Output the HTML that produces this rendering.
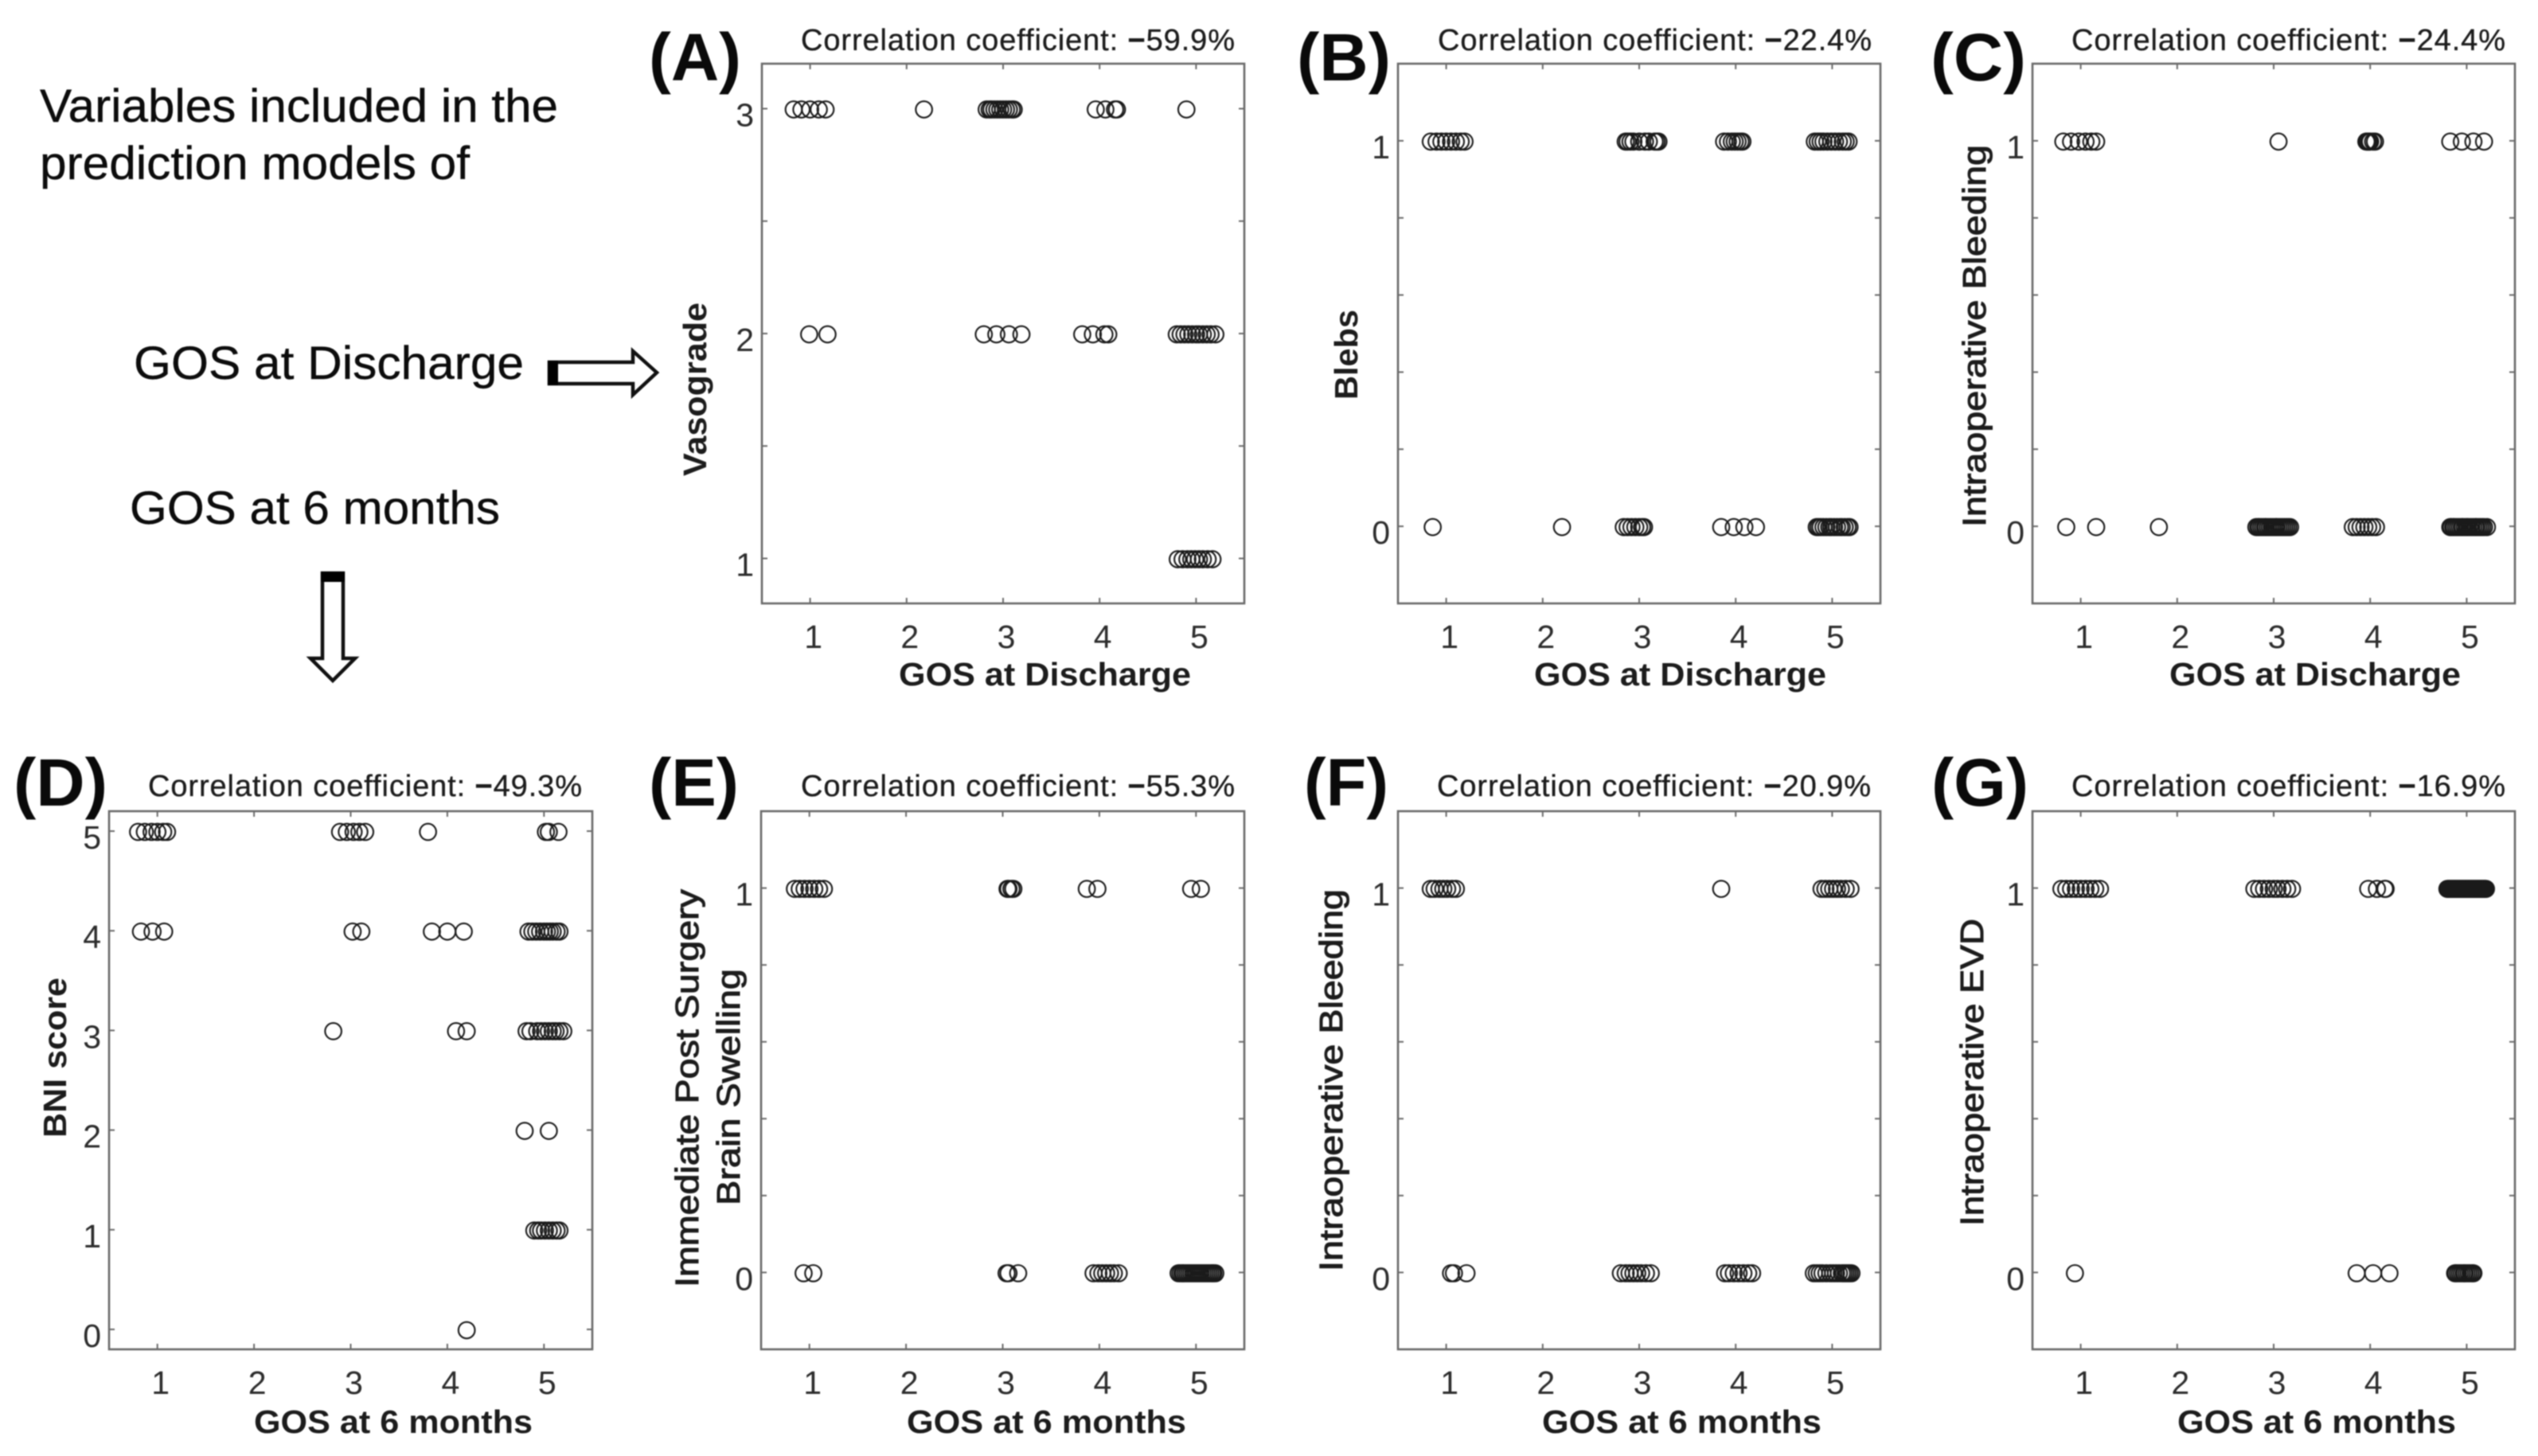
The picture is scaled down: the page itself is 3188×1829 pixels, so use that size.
<!DOCTYPE html>
<html lang="en">
<head>
<meta charset="utf-8">
<title>GOS correlation scatter plots</title>
<style>
html,body{margin:0;padding:0;background:#fff;width:3188px;height:1829px;overflow:hidden}
svg{display:block;filter:blur(0.9px)}
text{font-family:"Liberation Sans",Arial,sans-serif;fill:#1c1c1c}
.intro{font-size:58px;fill:#0c0c0c;stroke:#0c0c0c;stroke-width:.4px}
.panel{font-size:84px;font-weight:bold;fill:#0a0a0a}
.title{font-size:38px;stroke:#1c1c1c;stroke-width:.35px}
.minus{font-weight:bold}
.xt{font-size:41px;font-weight:bold}
.yt{font-size:41px;font-weight:bold}
.yr{font-size:41px;stroke:#1c1c1c;stroke-width:1px}
.tick{font-size:41px;fill:#2c2c2c}
</style>
</head>
<body>
<svg id="fig" xmlns="http://www.w3.org/2000/svg" width="3188" height="1829" viewBox="0 0 3188 1829">
<rect width="3188" height="1829" fill="#fff"/>

<text class="intro" x="50" y="153" textLength="651" lengthAdjust="spacingAndGlyphs">Variables included in the</text>
<text class="intro" x="50" y="225" textLength="540" lengthAdjust="spacingAndGlyphs">prediction models of</text>
<text class="intro" x="168" y="476" textLength="490" lengthAdjust="spacingAndGlyphs">GOS at Discharge</text>
<text class="intro" x="163" y="658" textLength="465" lengthAdjust="spacingAndGlyphs">GOS at 6 months</text>

<g>
<polygon points="690,455 795,455 795,441 825,468 795,496 795,482 690,482" fill="#fff" stroke="#111" stroke-width="4.5"/>
<rect x="688" y="453" width="13" height="31" fill="#000"/>
</g>
<g>
<polygon points="405,720 431,720 431,827 446,827 418,855 390,827 405,827" fill="#fff" stroke="#111" stroke-width="4.5"/>
<rect x="403" y="718" width="30" height="13" fill="#000"/>
</g>

<text class="panel" x="815" y="101" textLength="116" lengthAdjust="spacingAndGlyphs">(A)</text>
<text class="panel" x="1629" y="101" textLength="118" lengthAdjust="spacingAndGlyphs">(B)</text>
<text class="panel" x="2425" y="101" textLength="120" lengthAdjust="spacingAndGlyphs">(C)</text>
<text class="panel" x="17" y="1012" textLength="118" lengthAdjust="spacingAndGlyphs">(D)</text>
<text class="panel" x="815" y="1012" textLength="113" lengthAdjust="spacingAndGlyphs">(E)</text>
<text class="panel" x="1638" y="1012" textLength="106" lengthAdjust="spacingAndGlyphs">(F)</text>
<text class="panel" x="2426" y="1012" textLength="122" lengthAdjust="spacingAndGlyphs">(G)</text>

<text class="title" x="1006" y="63" textLength="545">Correlation coefficient: <tspan class="minus">−</tspan>59.9%</text>
<text class="title" x="1806" y="63" textLength="545">Correlation coefficient: <tspan class="minus">−</tspan>22.4%</text>
<text class="title" x="2602" y="63" textLength="545">Correlation coefficient: <tspan class="minus">−</tspan>24.4%</text>
<text class="title" x="186" y="1000" textLength="545">Correlation coefficient: <tspan class="minus">−</tspan>49.3%</text>
<text class="title" x="1006" y="1000" textLength="545">Correlation coefficient: <tspan class="minus">−</tspan>55.3%</text>
<text class="title" x="1805" y="1000" textLength="545">Correlation coefficient: <tspan class="minus">−</tspan>20.9%</text>
<text class="title" x="2602" y="1000" textLength="545">Correlation coefficient: <tspan class="minus">−</tspan>16.9%</text>

<text class="xt" x="1129" y="861" textLength="367" lengthAdjust="spacingAndGlyphs">GOS at Discharge</text>
<text class="xt" x="1927" y="861" textLength="367" lengthAdjust="spacingAndGlyphs">GOS at Discharge</text>
<text class="xt" x="2725" y="861" textLength="366" lengthAdjust="spacingAndGlyphs">GOS at Discharge</text>
<text class="xt" x="319" y="1800" textLength="350" lengthAdjust="spacingAndGlyphs">GOS at 6 months</text>
<text class="xt" x="1139" y="1800" textLength="351" lengthAdjust="spacingAndGlyphs">GOS at 6 months</text>
<text class="xt" x="1937" y="1800" textLength="351" lengthAdjust="spacingAndGlyphs">GOS at 6 months</text>
<text class="xt" x="2735" y="1800" textLength="350" lengthAdjust="spacingAndGlyphs">GOS at 6 months</text>

<text class="yt" transform="translate(887,598) rotate(-90)" textLength="218" lengthAdjust="spacingAndGlyphs">Vasograde</text>
<text class="yt" transform="translate(1705,502) rotate(-90)" textLength="113" lengthAdjust="spacingAndGlyphs">Blebs</text>
<text class="yr" transform="translate(2494,662) rotate(-90)" textLength="480" lengthAdjust="spacingAndGlyphs">Intraoperative Bleeding</text>
<text class="yt" transform="translate(83,1429) rotate(-90)" textLength="201" lengthAdjust="spacingAndGlyphs">BNI score</text>
<text class="yr" transform="translate(877,1617) rotate(-90)" textLength="500" lengthAdjust="spacingAndGlyphs">Immediate Post Surgery</text>
<text class="yr" transform="translate(929,1514) rotate(-90)" textLength="297" lengthAdjust="spacingAndGlyphs">Brain Swelling</text>
<text class="yr" transform="translate(1686,1597) rotate(-90)" textLength="480" lengthAdjust="spacingAndGlyphs">Intraoperative Bleeding</text>
<text class="yr" transform="translate(2491,1540) rotate(-90)" textLength="386" lengthAdjust="spacingAndGlyphs">Intraoperative EVD</text>
</svg>

<script>
// Shared tick values
const xTickValues = [1, 2, 3, 4, 5];
const vasogradeTicks = [1, 1.5, 2, 2.5, 3];
const vasogradeLabels = [1, 2, 3];
const binaryTicks = [0, 0.2, 0.4, 0.6, 0.8, 1];
const binaryLabels = [0, 1];
const bniTicks = [0, 1, 2, 3, 4, 5];
const bniLabels = [0, 1, 2, 3, 4, 5];

// Panel A: Vasograde vs GOS at discharge (jittered GOS per Vasograde level)
const aVasograde3 = [0.83,0.91,1.0,1.09,1.16,2.18,2.83,2.86,2.88,2.91,2.94,2.97,3.0,3.03,3.06,3.09,3.11,3.96,4.06,4.16,4.18,4.9];
const aVasograde2 = [0.99,1.18,2.80,2.93,3.06,3.19,3.82,3.93,4.05,4.09,4.8,4.84,4.88,4.92,4.96,5.0,5.03,5.07,5.11,5.15,5.2];
const aVasograde1 = [4.81,4.86,4.91,4.95,4.99,5.03,5.07,5.12,5.17];

// Panel B: Blebs
const bBlebs1 = [0.84,0.9,0.95,1.0,1.05,1.1,1.15,1.19,2.86,2.88,2.91,2.94,3.0,3.06,3.1,3.16,3.18,3.2,3.88,3.92,3.96,3.99,4.02,4.05,4.07,4.82,4.85,4.88,4.91,4.95,4.99,5.03,5.07,5.11,5.14,5.17];
const bBlebs0 = [0.86,2.2,2.84,2.88,2.92,2.96,3.0,3.03,3.05,3.85,3.98,4.09,4.21,4.84,4.86,4.88,4.91,4.94,4.97,4.99,5.02,5.05,5.08,5.1,5.13,5.16,5.18];

// Panel C: Intraoperative bleeding at discharge
const cBleeding1 = [0.82,0.9,0.98,1.05,1.11,1.16,3.05,3.96,3.97,3.98,3.99,4.0,4.03,4.05,4.83,4.95,5.07,5.18];
const cBleeding0 = [0.85,1.16,1.81,2.82,2.84,2.85,2.87,2.89,2.91,2.92,2.94,2.96,2.98,3.0,3.02,3.03,3.05,3.07,3.09,3.11,3.13,3.15,3.17,3.82,3.86,3.9,3.94,3.98,4.02,4.06,4.83,4.84,4.86,4.87,4.89,4.91,4.93,4.95,4.96,4.98,5.0,5.01,5.03,5.05,5.07,5.09,5.1,5.12,5.14,5.16,5.18,5.21];

// Panel D: BNI score vs GOS at 6 months
const dBni5 = [0.8,0.87,0.94,1.0,1.06,1.1,2.89,2.96,3.03,3.09,3.15,3.8,5.02,5.05,5.15];
const dBni4 = [0.83,0.95,1.07,3.02,3.11,3.84,4.0,4.17,4.84,4.88,4.92,4.96,5.0,5.03,5.06,5.09,5.13,5.16];
const dBni3 = [2.82,4.09,4.2,4.82,4.86,4.93,4.97,5.01,5.05,5.09,5.12,5.16,5.2];
const dBni2 = [4.8,5.05];
const dBni1 = [4.9,4.94,4.97,5.01,5.05,5.09,5.13,5.16];
const dBni0 = [4.2];

// Panel E: Immediate post surgery brain swelling
const eSwelling1 = [0.85,0.9,0.95,1.0,1.05,1.1,1.15,3.05,3.06,3.09,3.11,3.87,3.98,4.95,5.05];
const eSwelling0 = [0.94,1.04,3.04,3.06,3.16,3.94,3.99,4.03,4.07,4.11,4.15,4.2,4.82,4.84,4.86,4.87,4.89,4.91,4.93,4.95,4.97,4.99,5.01,5.03,5.05,5.07,5.09,5.11,5.13,5.15,5.17,5.18,5.2];

// Panel F: Intraoperative bleeding at 6 months
const fBleeding1 = [0.84,0.88,0.93,0.97,1.01,1.06,1.1,3.85,4.89,4.93,4.97,5.01,5.05,5.09,5.14,5.19];
const fBleeding0 = [1.05,1.08,1.21,2.81,2.86,2.9,2.94,2.98,3.02,3.07,3.12,3.89,3.93,3.98,4.03,4.08,4.13,4.17,4.81,4.84,4.87,4.9,4.94,4.98,5.01,5.04,5.07,5.1,5.12,5.14,5.16,5.18,5.2];

// Panel G: Intraoperative EVD
const gEvd1 = [0.8,0.85,0.9,0.95,1.0,1.05,1.1,1.15,1.2,2.8,2.85,2.9,2.95,3.0,3.04,3.09,3.14,3.19,3.98,4.07,4.15,4.16,4.8,4.81,4.82,4.83,4.84,4.85,4.86,4.87,4.88,4.89,4.9,4.91,4.92,4.93,4.94,4.95,4.96,4.97,4.98,4.99,5.0,5.01,5.02,5.03,5.04,5.05,5.06,5.07,5.08,5.09,5.1,5.11,5.12,5.13,5.14,5.15,5.16,5.17,5.18,5.19,5.2];
const gEvd0 = [0.94,3.86,4.03,4.2,4.88,4.89,4.91,4.93,4.95,4.97,4.98,5.0,5.02,5.04,5.06,5.07];

const panelA = {id:'a', left:957, right:1563, top:80, bottom:758, yMin:0.8, yMax:3.2, yTicks:vasogradeTicks, yLabels:vasogradeLabels, rows:[[3,aVasograde3],[2,aVasograde2],[1,aVasograde1]]};
const panelB = {id:'b', left:1756, right:2362, top:80, bottom:758, yMin:-0.2, yMax:1.2, yTicks:binaryTicks, yLabels:binaryLabels, rows:[[1,bBlebs1],[0,bBlebs0]]};
const panelC = {id:'c', left:2553, right:3159, top:80, bottom:758, yMin:-0.2, yMax:1.2, yTicks:binaryTicks, yLabels:binaryLabels, rows:[[1,cBleeding1],[0,cBleeding0]]};
const panelD = {id:'d', left:137, right:744, top:1019, bottom:1695, yMin:-0.2, yMax:5.2, yTicks:bniTicks, yLabels:bniLabels, rows:[[5,dBni5],[4,dBni4],[3,dBni3],[2,dBni2],[1,dBni1],[0,dBni0]]};
const panelE = {id:'e', left:956, right:1563, top:1019, bottom:1695, yMin:-0.2, yMax:1.2, yTicks:binaryTicks, yLabels:binaryLabels, rows:[[1,eSwelling1],[0,eSwelling0]]};
const panelF = {id:'f', left:1756, right:2362, top:1019, bottom:1695, yMin:-0.2, yMax:1.2, yTicks:binaryTicks, yLabels:binaryLabels, rows:[[1,fBleeding1],[0,fBleeding0]]};
const panelG = {id:'g', left:2553, right:3159, top:1019, bottom:1695, yMin:-0.2, yMax:1.2, yTicks:binaryTicks, yLabels:binaryLabels, rows:[[1,gEvd1],[0,gEvd0]]};
const panels = [panelA, panelB, panelC, panelD, panelE, panelF, panelG];

const NS = 'http://www.w3.org/2000/svg';
const fig = document.getElementById('fig');
const AXIS = '#6a6a6a';

function make(tag, attrs, parent) {
  const node = document.createElementNS(NS, tag);
  for (const k in attrs) node.setAttribute(k, attrs[k]);
  parent.appendChild(node);
  return node;
}

function drawPanel(p) {
  const xScale = v => p.left + (v - 0.5) / 5 * (p.right - p.left);
  const yScale = v => p.bottom - (v - p.yMin) / (p.yMax - p.yMin) * (p.bottom - p.top);

  const g = make('g', {}, fig);
  
  

  const frame = make('rect', {x:p.left, y:p.top, width:p.right-p.left, height:p.bottom-p.top, fill:'none', stroke:AXIS, 'stroke-width':2.6}, g);
  
  

  xTickValues.forEach(v => {
    const x = xScale(v);
    const tb = make('line', {x1:x, x2:x, y1:p.bottom, y2:p.bottom-7, stroke:AXIS, 'stroke-width':2}, g);
    
    
    const tt = make('line', {x1:x, x2:x, y1:p.top, y2:p.top+7, stroke:AXIS, 'stroke-width':2}, g);
    
    
    const lab = make('text', {x:x+4, y:p.bottom+56, 'text-anchor':'middle', class:'tick'}, g);
    
    
    lab.textContent = v;
  });

  p.yTicks.forEach(v => {
    const y = yScale(v);
    const tl = make('line', {x1:p.left, x2:p.left+7, y1:y, y2:y, stroke:AXIS, 'stroke-width':2}, g);
    
    
    const tr = make('line', {x1:p.right, x2:p.right-7, y1:y, y2:y, stroke:AXIS, 'stroke-width':2}, g);
    
    
  });

  p.yLabels.forEach(v => {
    const lab = make('text', {x:p.left-10, y:yScale(v)+22, 'text-anchor':'end', class:'tick'}, g);
    
    
    lab.textContent = v;
  });

  p.rows.forEach(row => {
    const level = row[0];
    row[1].forEach(gos => {
      const c = make('circle', {cx:xScale(gos), cy:yScale(level)+1, r:10.3, fill:'none', stroke:'#1a1a1a', 'stroke-width':2.1}, g);
      
      
    });
  });
}

panels.forEach(drawPanel);
</script>
</body>
</html>
